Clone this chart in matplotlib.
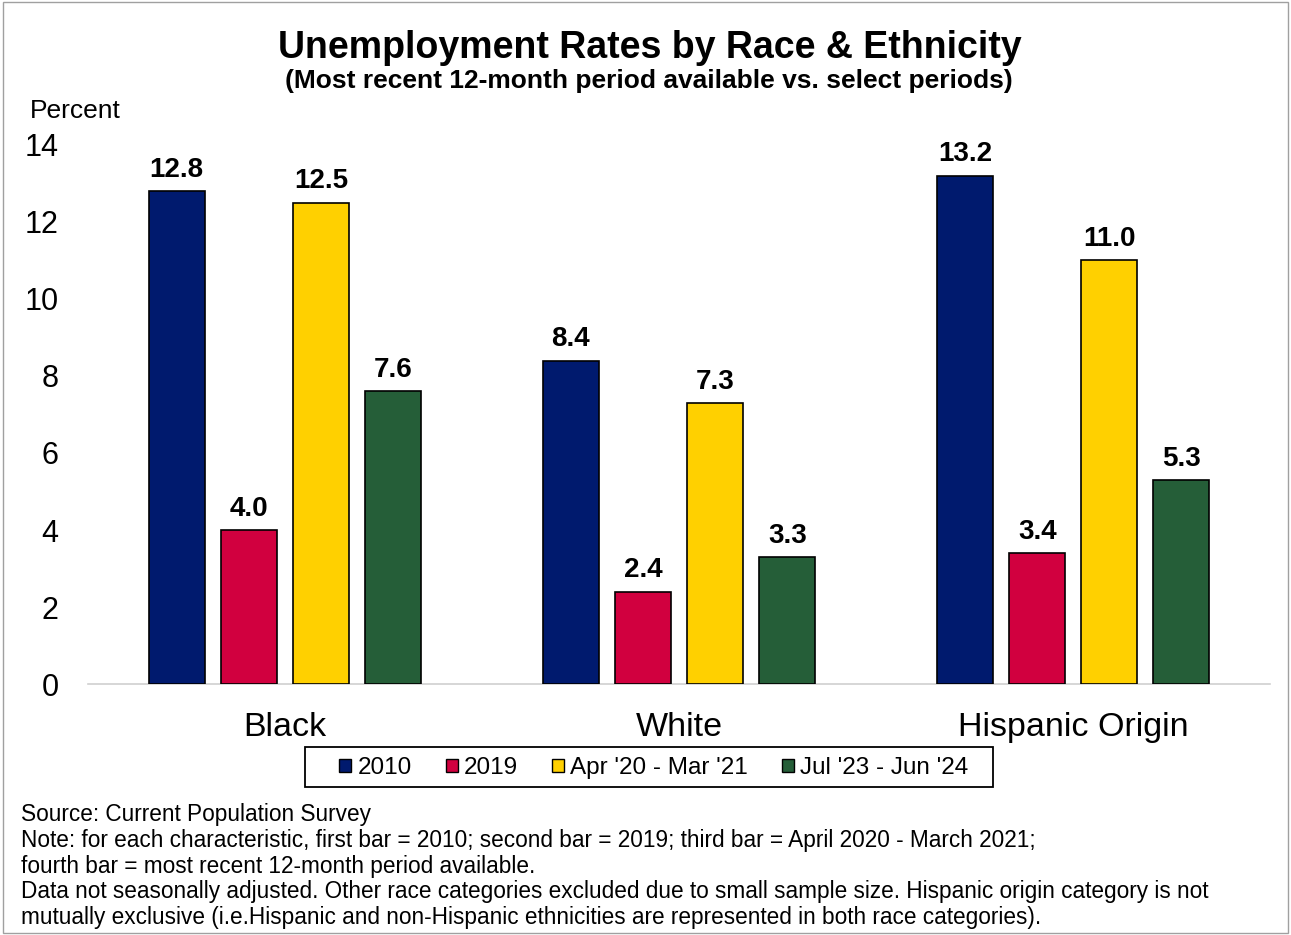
import numpy as np
import matplotlib
matplotlib.use("Agg")
import matplotlib.pyplot as plt
from matplotlib.patches import Rectangle

plt.rcParams['font.family'] = ['Liberation Sans', 'DejaVu Sans']

groups = ["Black", "White", "Hispanic Origin"]
series = ["2010", "2019", "Apr '20 - Mar '21", "Jul '23 - Jun '24"]
vals_2010 = [12.8, 8.4, 13.2]
vals_2019 = [4.0, 2.4, 3.4]
vals_covid = [12.5, 7.3, 11.0]
vals_recent = [7.6, 3.3, 5.3]
colors = ["#001A6E", "#D1003F", "#FFD000", "#255E38"]

notes = ("Source: Current Population Survey\n"
         "Note: for each characteristic, first bar = 2010; second bar = 2019; third bar = April 2020 - March 2021;\n"
         "fourth bar = most recent 12-month period available.\n"
         "Data not seasonally adjusted. Other race categories excluded due to small sample size. Hispanic origin category is not\n"
         "mutually exclusive (i.e.Hispanic and non-Hispanic ethnicities are represented in both race categories).")

fig = plt.figure(figsize=(12.91, 9.35), dpi=100)
ax = fig.add_axes([0.068, 0.2684, 0.916, 0.5766])

x = np.arange(len(groups))
width = 0.142
step = 0.183
all_vals = [vals_2010, vals_2019, vals_covid, vals_recent]
for i, (name, v) in enumerate(zip(series, all_vals)):
    pos = x + (i - 1.5) * step
    bars = ax.bar(pos, v, width, color=colors[i], edgecolor="black", linewidth=1.2, label=name, zorder=3)
    for b, val in zip(bars, v):
        ax.annotate(f"{val:.1f}", (b.get_x() + b.get_width() / 2, val), xytext=(0, 6),
                    textcoords="offset points", ha="center", va="bottom",
                    fontsize=20, fontweight="bold")

ax.set_xlim(-0.5, 2.5)
ax.set_ylim(0, 14)
ax.set_yticks(np.arange(0, 15, 2))
ax.set_xticks(x)
ax.set_xticklabels(groups, fontsize=24.5)
ax.tick_params(axis="x", length=0, pad=20)
ax.tick_params(axis="y", length=0, pad=21, labelsize=22)
for s in ["top", "right", "left"]:
    ax.spines[s].set_visible(False)
ax.spines["bottom"].set_color("#D0D0D0")
ax.spines["bottom"].set_linewidth(1.2)

fig.text(0.023, 0.881, "Percent", fontsize=19, ha="left", va="center")
fig.text(0.503, 0.949, "Unemployment Rates by Race & Ethnicity", fontsize=27,
         fontweight="bold", ha="center", va="center")
fig.text(0.503, 0.913, "(Most recent 12-month period available vs. select periods)", fontsize=19,
         fontweight="bold", ha="center", va="center")

leg = fig.legend(loc="center", bbox_to_anchor=(0.5066, 0.1785), ncol=4, fontsize=17.5,
                 frameon=False, handlelength=0.5, handleheight=0.5, handletextpad=0.25,
                 columnspacing=1.4)
for h in leg.legend_handles:
    h.set_edgecolor("black")
    h.set_linewidth(1.0)
fig.patches.append(Rectangle((0.2363, 0.1583), 0.5329, 0.0428, transform=fig.transFigure,
                             fill=False, edgecolor="black", linewidth=1.3))

fig.text(0.016, 0.141, notes, fontsize=16.3, ha="left", va="top", linespacing=1.15)

fig.patches.append(Rectangle((0.002, 0.002), 0.996, 0.996, transform=fig.transFigure,
                             fill=False, edgecolor="#A0A0A0", linewidth=1))

fig.savefig("out.png", dpi=100)
